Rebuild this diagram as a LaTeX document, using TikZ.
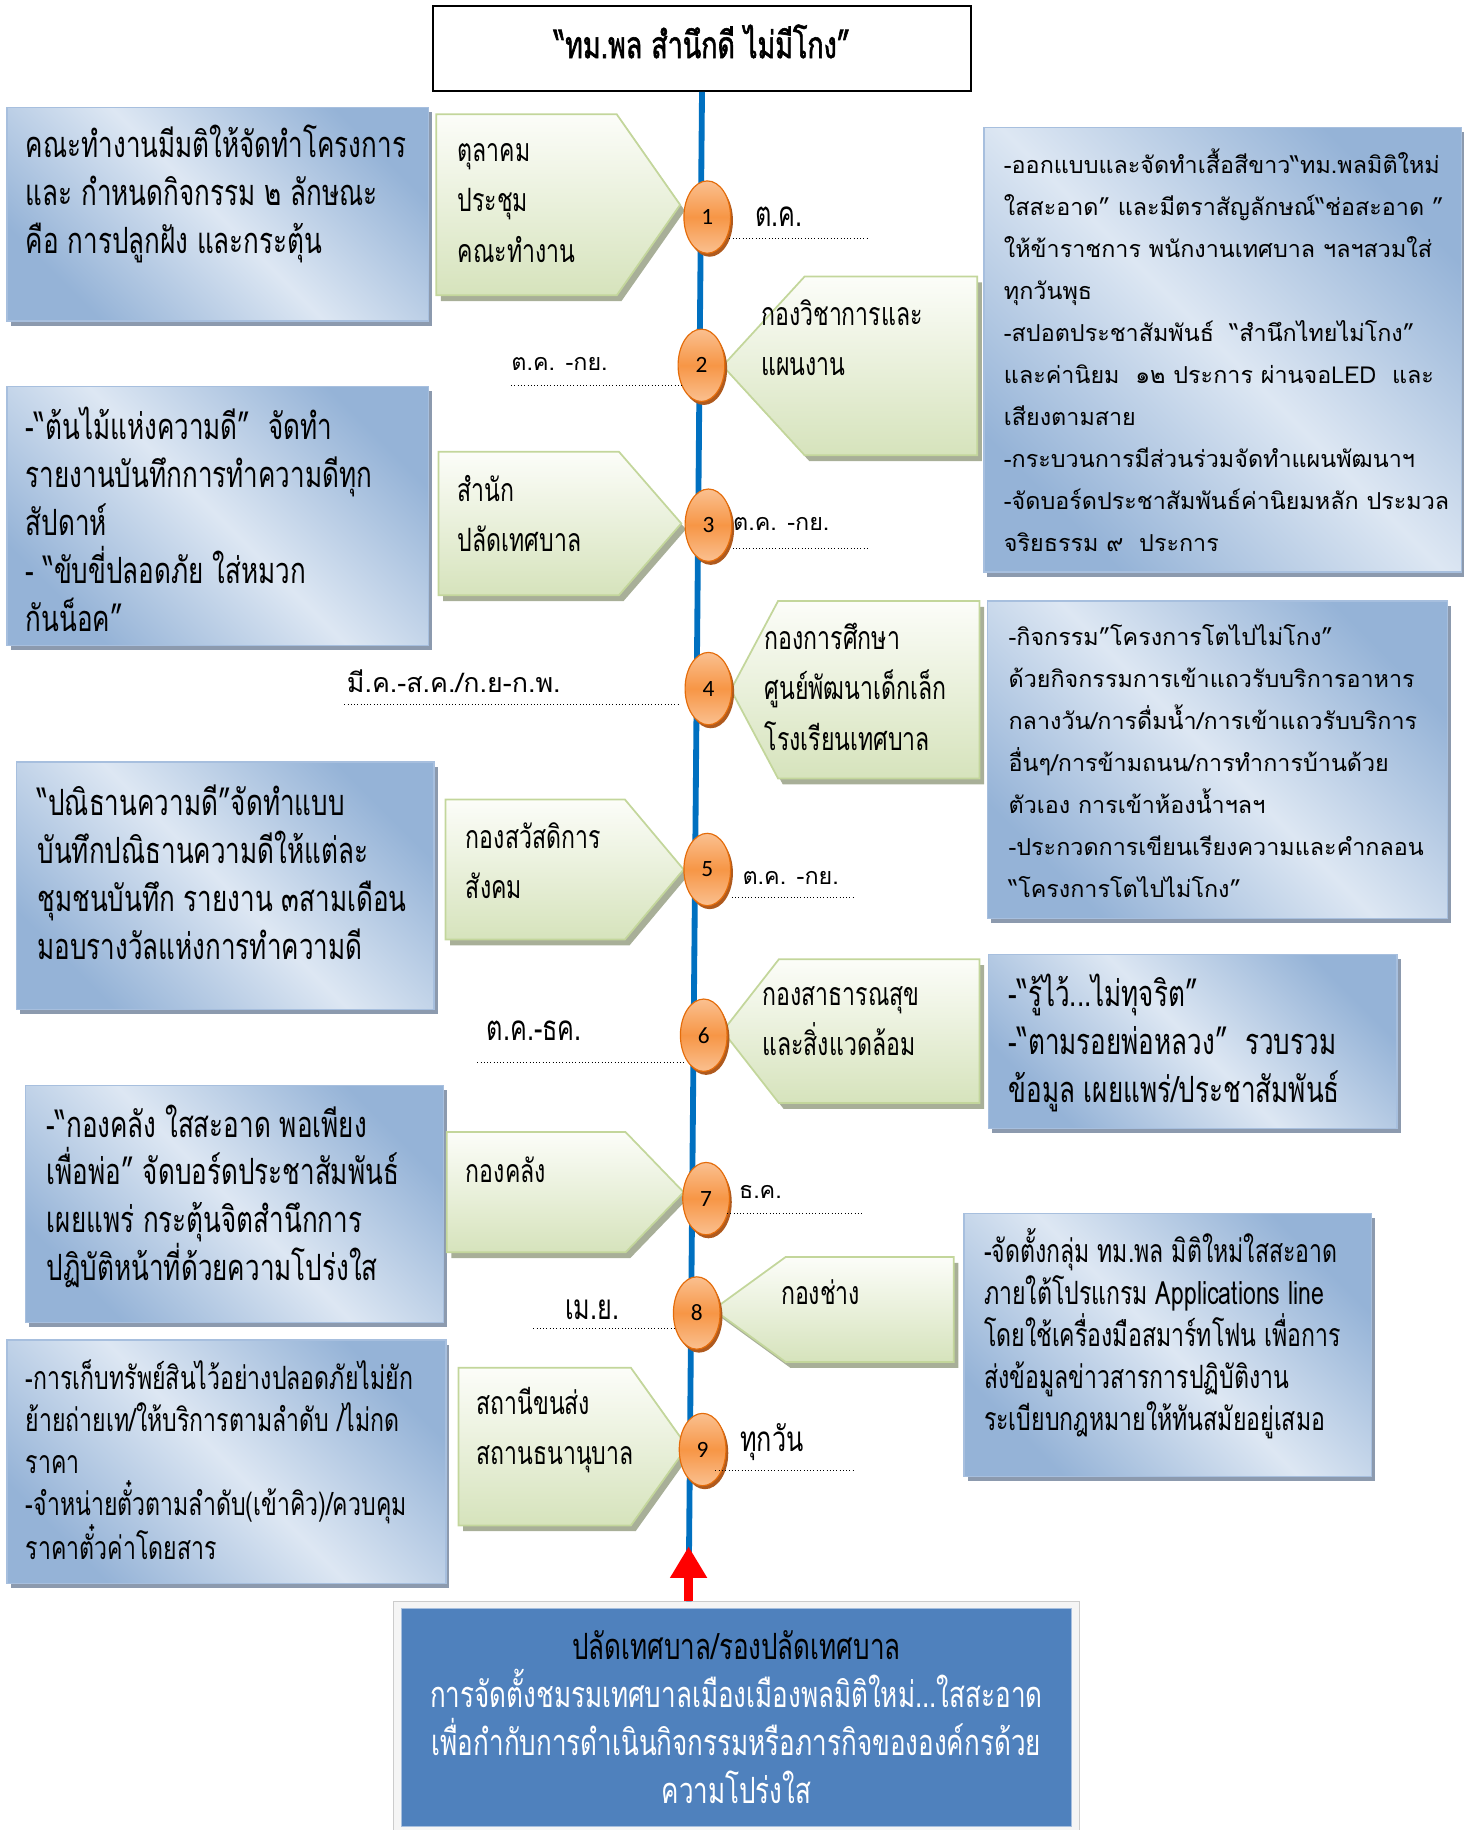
\documentclass[tikz,border=0pt]{standalone}
\usepackage{fontspec}
\usetikzlibrary{shapes.geometric,shapes.symbols,shadows,arrows.meta}
\newfontfamily\thaiw[Script=Thai]{Loma}
\newfontfamily\thain[Script=Thai,FakeStretch=0.72]{Loma}
\newfontfamily\thainb[Script=Thai,FakeStretch=0.72,FakeBold=1.6]{Loma}
\newfontfamily\numfont{Carlito}
\newcommand\fW{\thaiw\fontsize{20}{36}\selectfont}
\newcommand\fN{\thain\fontsize{31}{41}\selectfont}
\newcommand\fNs{\thain\fontsize{27.5}{36}\selectfont}
\newcommand\fG{\thain\fontsize{27.5}{43}\selectfont}
\newcommand\fD{\thain\fontsize{30}{36}\selectfont}
\definecolor{boxdark}{RGB}{149,179,215}
\definecolor{boxlight}{RGB}{221,231,243}
\definecolor{boxline}{RGB}{167,191,222}
\definecolor{boxshade}{RGB}{140,154,174}
\definecolor{grtop}{RGB}{252,253,249}
\definecolor{grbot}{RGB}{214,227,188}
\definecolor{grline}{RGB}{195,214,155}
\definecolor{grshade}{RGB}{168,175,152}
\definecolor{ortop}{RGB}{250,192,144}
\definecolor{ormid}{RGB}{247,150,70}
\definecolor{orline}{RGB}{228,108,10}
\definecolor{orshade}{RGB}{175,90,30}
\definecolor{spine}{RGB}{0,112,192}
\definecolor{basefill}{RGB}{79,129,189}

\begin{document}
\begin{tikzpicture}[x=1pt,y=-1pt,
    bluebox/.style={rectangle, draw=boxline, line width=1.2pt,
      top color=boxdark, bottom color=boxdark, middle color=boxlight,
      shading angle=-45,
      drop shadow={shadow xshift=3pt, shadow yshift=-4pt, fill=boxshade, opacity=1}},
    grarrow/.style={signal, signal from=nowhere, draw=grline, line width=1.5pt,
      top color=grtop, bottom color=grbot,
      drop shadow={shadow xshift=4pt, shadow yshift=-5pt, fill=grshade, opacity=1}},
    toright/.style={grarrow, signal to=east, anchor=west},
    toleft/.style={grarrow, signal to=west, anchor=east},
    stepdot/.style={ellipse, minimum width=40pt, minimum height=62pt, inner sep=0pt,
      draw=orline, line width=1pt, top color=ortop, bottom color=ortop, middle color=ormid,
      drop shadow={shadow xshift=2pt, shadow yshift=-3pt, fill=orshade, opacity=1},
      font=\numfont\fontsize{20}{20}\selectfont},
    tx/.style={inner sep=0pt, anchor=west, align=left},
    dotline/.style={dotted, line width=0.8pt}]
  \useasboundingbox (0,0) rectangle (1254,1568);

  % title and base box
  \node[draw, line width=1.5pt, minimum width=461pt, minimum height=73pt] (title) at (601.5,41.5) {};
  \node[font=\thainb\fontsize{32}{36}\selectfont] (titletext) at (601.5,35.5)
    {“ทม.พล สำนึกดี ไม่มีโกง”};
  \node[draw=gray!40, fill=gray!8, minimum width=588pt, minimum height=198pt] (baseframe) at (631,1471) {};
  \node[draw=boxline, fill=basefill, minimum width=574pt, minimum height=187pt,
    text=white, align=center, font=\fN] (base) at (631,1471.5)
    {\textcolor{black}{ปลัดเทศบาล/รองปลัดเทศบาล}\\
     การจัดตั้งชมรมเทศบาลเมืองเมืองพลมิติใหม่...ใสสะอาด\\
     เพื่อกำกับการดำเนินกิจกรรมหรือภารกิจขององค์กรด้วย\\
     ความโปร่งใส};

  % spine
  \coordinate (spinebot) at (590,1372);
  \coordinate (arrowtip) at (590,1325);
  \draw[spine, line width=5pt] (title.south) -- (spinebot);
  \draw[red, line width=8pt, -{Triangle[width=30pt,length=27pt]}] (spinebot) -- (arrowtip);

  % blue boxes
  \node[bluebox, minimum width=361pt, minimum height=183pt] (L1) at (186.5,183.5) {};
  \node[bluebox, minimum width=409pt, minimum height=381pt] (R1) at (1047.5,299.5) {};
  \node[bluebox, minimum width=361pt, minimum height=222pt] (L2) at (186.5,442) {};
  \node[bluebox, minimum width=394pt, minimum height=272pt] (R2) at (1043,651) {};
  \node[bluebox, minimum width=358pt, minimum height=212pt] (L3) at (193,759) {};
  \node[bluebox, minimum width=350pt, minimum height=149pt] (R3) at (1022,892.5) {};
  \node[bluebox, minimum width=358pt, minimum height=203pt] (L4) at (201,1031.5) {};
  \node[bluebox, minimum width=349pt, minimum height=225pt] (R4) at (1000.5,1152.5) {};
  \node[bluebox, minimum width=376pt, minimum height=209pt] (L5) at (194,1252.5) {};

  % green arrows
  \node[toright, signal pointer angle=110, minimum width=209pt, minimum height=155pt] (g1) at (373,175.5) {};
  \node[toleft, signal pointer angle=95, minimum width=218pt, minimum height=153pt] (g2) at (838,313.5) {};
  \node[toright, signal pointer angle=98, minimum width=208pt, minimum height=123pt] (g3) at (375,448.5) {};
  \node[toleft, signal pointer angle=124, minimum width=213pt, minimum height=152pt] (g4) at (840,591) {};
  \node[toright, signal pointer angle=100, minimum width=204pt, minimum height=120pt] (g5) at (381,745) {};
  \node[toleft, signal pointer angle=104, minimum width=220pt, minimum height=123pt] (g6) at (840,883.5) {};
  \node[toright, signal pointer angle=92, minimum width=203pt, minimum height=103pt] (g7) at (382,1021.5) {};
  \node[toleft, signal pointer angle=72, minimum width=206pt, minimum height=90pt] (g8) at (818,1122) {};
  \node[toright, signal pointer angle=109, minimum width=196pt, minimum height=135pt] (g9) at (392,1239.5) {};

  % steps
  \foreach \n/\x/\y in {1/606/186, 2/601/313, 3/607/450, 4/607/590, 5/606/745,
      6/603/887, 7/605/1027, 8/597/1125, 9/602/1242}
    \node[stepdot] (s\n) at (\x,\y) {\n};

  % dotted date lines
  \foreach \n/\xa/\xb/\yy in {1/625/745/204, 2/438/585/330, 3/628/743/470,
      4/295/583/604, 5/627/732/769, 6/409/588/910, 7/623/740/1040,
      8/457/580/1138, 9/613/732/1260} {
    \coordinate (da\n) at (\xa,\yy);
    \coordinate (db\n) at (\xb,\yy);
    \draw[dotline] (da\n) -- (db\n);
  }

  % dates
  \node[tx, font=\fD] (d1) at (647,186) {ต.ค.};
  \node[tx, font=\fW] (d2) at (438,312) {ต.ค. -กย.};
  \node[tx, font=\fW] (d3) at (628,449) {ต.ค. -กย.};
  \node[tx, font=\thaiw\fontsize{23}{30}\selectfont] (d4) at (297,584) {มี.ค.-ส.ค./ก.ย-ก.พ.};
  \node[tx, font=\fW] (d5) at (636,752) {ต.ค. -กย.};
  \node[tx, font=\fD] (d6) at (417,883) {ต.ค.-ธค.};
  \node[tx, font=\fW] (d7) at (633,1021) {ธ.ค.};
  \node[tx, font=\fD] (d8) at (484,1122) {เม.ย.};
  \node[tx, font=\fD] (d9) at (634,1236) {ทุกวัน};

  % green arrow texts
  \node[tx, font=\fG] (t1) at (392,174) {ตุลาคม\\ประชุม\\คณะทำงาน};
  \node[tx, font=\fG] (t2) at (652,289.5) {กองวิชาการและ\\แผนงาน};
  \node[tx, font=\fG] (t3) at (392,440) {สำนัก\\ปลัดเทศบาล};
  \node[tx, font=\fG] (t4) at (655,588.5) {กองการศึกษา\\ศูนย์พัฒนาเด็กเล็ก\\โรงเรียนเทศบาล};
  \node[tx, font=\fG] (t5) at (399,737.5) {กองสวัสดิการ\\สังคม};
  \node[tx, font=\fG] (t6) at (653,875) {กองสาธารณสุข\\และสิ่งแวดล้อม};
  \node[tx, font=\fG] (t7) at (399,1002) {กองคลัง};
  \node[tx, font=\fG] (t8) at (669,1107) {กองช่าง};
  \node[tx, font=\fG] (t9) at (408,1225.5) {สถานีขนส่ง\\สถานธนานุบาล};

  % box texts
  \node[tx, font=\fN] (l1) at (22,166)
    {คณะทำงานมีมติให้จัดทำโครงการ\\และ กำหนดกิจกรรม ๒ ลักษณะ\\คือ การปลูกฝัง และกระตุ้น};
  \node[tx, font=\fW] (r1) at (860,300)
    {-ออกแบบและจัดทำเสื้อสีขาว“ทม.พลมิติใหม่\\
     ใสสะอาด” และมีตราสัญลักษณ์“ช่อสะอาด ”\\
     ให้ข้าราชการ พนักงานเทศบาล ฯลฯสวมใส่\\
     ทุกวันพุธ\\
     -สปอตประชาสัมพันธ์ \ “สำนึกไทยไม่โกง”\\
     และค่านิยม \ ๑๒ ประการ ผ่านจอLED \ และ\\
     เสียงตามสาย\\
     -กระบวนการมีส่วนร่วมจัดทำแผนพัฒนาฯ\\
     -จัดบอร์ดประชาสัมพันธ์ค่านิยมหลัก ประมวล\\
     จริยธรรม ๙ \ ประการ};
  \node[tx, font=\fN] (l2) at (22,445)
    {-“ต้นไม้แห่งความดี” \ จัดทำ\\รายงานบันทึกการทำความดีทุก\\สัปดาห์\\- “ขับขี่ปลอดภัย ใส่หมวก\\กันน็อค”};
  \node[tx, font=\fW] (r2) at (864,652)
    {-กิจกรรม”โครงการโตไปไม่โกง”\\
     ด้วยกิจกรรมการเข้าแถวรับบริการอาหาร\\
     กลางวัน/การดื่มน้ำ/การเข้าแถวรับบริการ\\
     อื่นๆ/การข้ามถนน/การทำการบ้านด้วย\\
     ตัวเอง การเข้าห้องน้ำฯลฯ\\
     -ประกวดการเขียนเรียงความและคำกลอน\\
     “โครงการโตไปไม่โกง”};
  \node[tx, font=\fN] (l3) at (32,747.5)
    {“ปณิธานความดี”จัดทำแบบ\\บันทึกปณิธานความดีให้แต่ละ\\ชุมชนบันทึก รายงาน ๓สามเดือน\\มอบรางวัลแห่งการทำความดี};
  \node[tx, font=\fN] (r3) at (864,893.5)
    {-“รู้ไว้...ไม่ทุจริต”\\-“ตามรอยพ่อหลวง” \ รวบรวม\\ข้อมูล เผยแพร่/ประชาสัมพันธ์};
  \node[tx, font=\fN] (l4) at (40,1025)
    {-“กองคลัง ใสสะอาด พอเพียง\\เพื่อพ่อ” จัดบอร์ดประชาสัมพันธ์\\เผยแพร่ กระตุ้นจิตสำนึกการ\\ปฏิบัติหน้าที่ด้วยความโปร่งใส};
  \node[tx, font=\fNs] (r4) at (843,1142.5)
    {-จัดตั้งกลุ่ม ทม.พล มิติใหม่ใสสะอาด\\ภายใต้โปรแกรม Applications line\\โดยใช้เครื่องมือสมาร์ทโฟน เพื่อการ\\ส่งข้อมูลข่าวสารการปฏิบัติงาน\\ระเบียบกฎหมายให้ทันสมัยอยู่เสมอ};
  \node[tx, font=\fNs] (l5) at (22,1250.5)
    {-การเก็บทรัพย์สินไว้อย่างปลอดภัยไม่ยัก\\ย้ายถ่ายเท/ให้บริการตามลำดับ /ไม่กด\\ราคา\\-จำหน่ายตั๋วตามลำดับ(เข้าคิว)/ควบคุม\\ราคาตั๋วค่าโดยสาร};
\end{tikzpicture}
\end{document}
